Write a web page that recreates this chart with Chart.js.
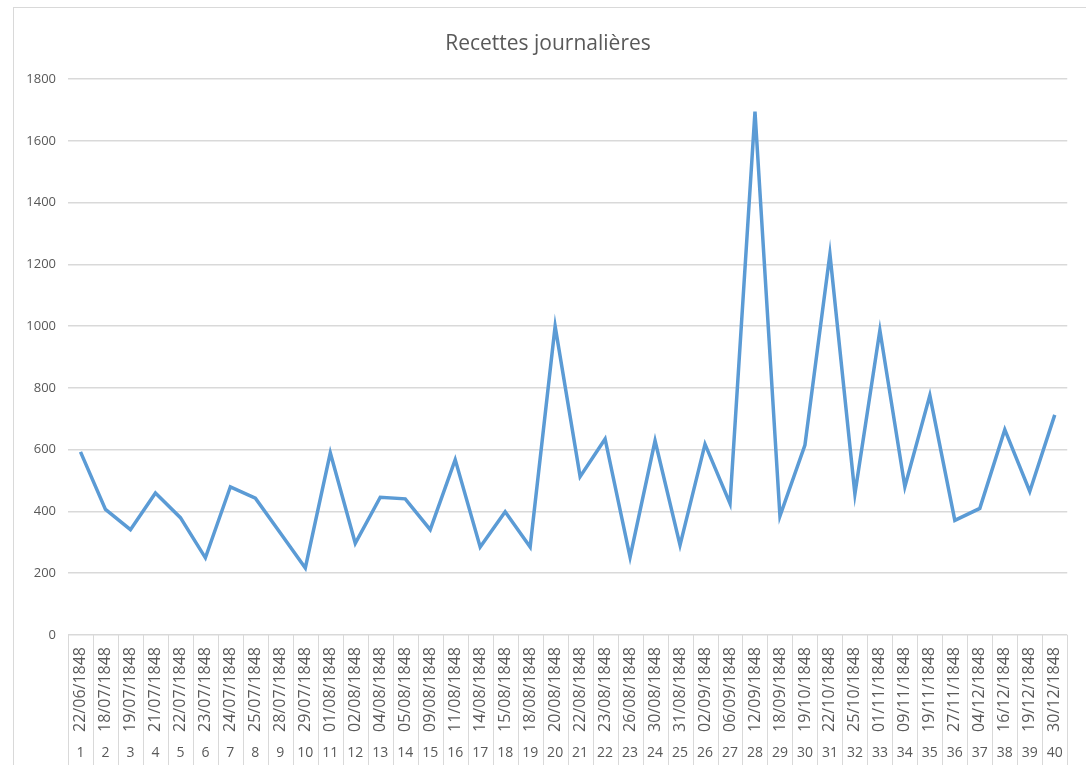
<!DOCTYPE html>
<html>
<head>
<meta charset="utf-8">
<script src="https://cdn.jsdelivr.net/npm/chart.js@4/dist/chart.umd.min.js"></script>
<style>
  html, body { margin: 0; padding: 0; background: #fff; overflow: hidden; }
  #box { position: absolute; left: 13px; top: 7px; width: 1090px; height: 770px; border: 1px solid #d9d9d9; }
  #chart { display: block; }
</style>
</head>
<body>
<div id="box"><canvas id="chart" width="1072" height="757"></canvas></div>
<script>
const dates = ['22/06/1848', '18/07/1848', '19/07/1848', '21/07/1848', '22/07/1848', '23/07/1848', '24/07/1848', '25/07/1848', '28/07/1848', '29/07/1848',
    '01/08/1848', '02/08/1848', '04/08/1848', '05/08/1848', '09/08/1848', '11/08/1848', '14/08/1848', '15/08/1848', '18/08/1848', '20/08/1848',
    '22/08/1848', '23/08/1848', '26/08/1848', '30/08/1848', '31/08/1848', '02/09/1848', '06/09/1848', '12/09/1848', '18/09/1848', '19/10/1848',
    '22/10/1848', '25/10/1848', '01/11/1848', '09/11/1848', '19/11/1848', '27/11/1848', '04/12/1848', '16/12/1848', '19/12/1848', '30/12/1848'];
const numeros = ['1', '2', '3', '4', '5', '6', '7', '8', '9', '10', '11', '12', '13', '14', '15', '16', '17', '18', '19', '20',
    '21', '22', '23', '24', '25', '26', '27', '28', '29', '30', '31', '32', '33', '34', '35', '36', '37', '38', '39', '40'];
const recettes = [593, 407, 341, 460, 380, 250, 480, 443, 330, 217, 590, 297, 446, 441, 341, 568, 285, 399, 285, 1000,
    513, 635, 252, 629, 291, 618, 426, 1695, 385, 615, 1234, 457, 987, 480, 776, 371, 410, 665, 465, 713];

const police = '"Open Sans", sans-serif';
const gris = '#595959';

// lignes de séparation entre les catégories, sous l'axe
const separateurs = {
    id: 'separateurs',
    afterDraw(chart) {
        const x = chart.scales.x, x2 = chart.scales.x2, ctx = chart.ctx;
        const pas = (x.right - x.left) / dates.length;
        ctx.save();
        ctx.strokeStyle = '#d9d9d9';
        ctx.lineWidth = 1;
        for (let i = 0; i <= dates.length; i++) {
            const px = Math.round(x.left + i * pas) + 0.5;
            ctx.beginPath();
            ctx.moveTo(px, x.top);
            ctx.lineTo(px, x2.bottom);
            ctx.stroke();
        }
        ctx.restore();
    }
};

new Chart(document.getElementById('chart').getContext('2d'), {
    type: 'line',
    data: {
        labels: dates,
        datasets: [{
            label: 'Recettes',
            data: recettes,
            borderColor: '#5b9bd5',
            borderWidth: 3.5,
            pointRadius: 0,
            tension: 0,
            fill: false
        }]
    },
    options: {
        responsive: false,
        animation: false,
        layout: { padding: { left: 0, right: 4, top: 0, bottom: 0 } },
        plugins: {
            legend: { display: false },
            tooltip: { enabled: false },
            title: {
                display: true,
                text: 'Recettes journalières',
                color: gris,
                font: { family: police, size: 21, weight: 'normal' },
                padding: { top: 23, bottom: 23 }
            }
        },
        scales: {
            y: {
                min: 0,
                max: 1800,
                ticks: { stepSize: 200, color: gris, padding: 12, font: { family: police, size: 13 },
                    callback: v => String(v) },
                grid: { color: '#d9d9d9', lineWidth: 1.5, drawTicks: false },
                border: { display: false },
                afterFit: s => { s.width = 54; }
            },
            x: {
                position: 'bottom',
                weight: 0,
                offset: true,
                ticks: { minRotation: 90, maxRotation: 90, autoSkip: false, color: gris, padding: 12, font: { family: police, size: 16 } },
                grid: { display: false, drawTicks: false },
                border: { display: false },
                afterFit: s => { s.height = 106; }
            },
            x2: {
                type: 'category',
                position: 'bottom',
                weight: 1,
                labels: numeros,
                offset: true,
                ticks: { maxRotation: 0, autoSkip: false, color: gris, padding: 4, font: { family: police, size: 14 } },
                grid: { display: false, drawTicks: false },
                border: { display: false },
                afterFit: s => { s.height = 24; }
            }
        }
    },
    plugins: [separateurs]
});
</script>
</body>
</html>
